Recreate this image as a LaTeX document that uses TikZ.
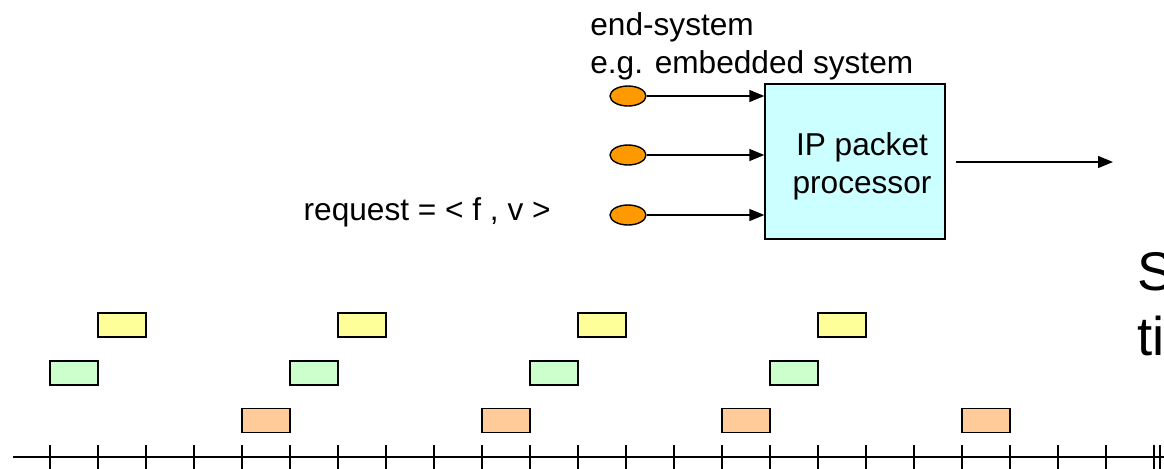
\documentclass[tikz,border=0pt]{standalone}
\usepackage{fontspec}
\setmainfont{Liberation Sans}
\usetikzlibrary{arrows.meta,shapes.geometric,positioning}
\definecolor{boxcyan}{HTML}{CCFFFF}
\definecolor{srcorange}{HTML}{FF9900}
\definecolor{slotyellow}{HTML}{FFFF99}
\definecolor{slotgreen}{HTML}{CCFFCC}
\definecolor{slotorange}{HTML}{FFCC99}
\tikzset{
  proc/.style={
    rectangle, draw, fill=boxcyan,
    minimum width=3.6cm, minimum height=3.1cm,
    line width=0.8pt,
  },
  src/.style={
    ellipse, draw, fill=srcorange, inner sep=0pt, line width=0.8pt,
    minimum width=0.72cm, minimum height=0.4cm,
  },
  slot/.style={
    rectangle, draw, inner sep=0pt, line width=1pt,
    minimum width=0.96cm, minimum height=0.48cm,
  },
  line/.style={
    draw, line width=0.8pt, -{Triangle[length=0.3cm,width=0.24cm]},
  }
}

\begin{document}
\begin{tikzpicture}[x=0.02cm,y=-0.02cm,font=\fontsize{18}{21.6}\selectfont]
\useasboundingbox (0,0) rectangle (1164,468);
\clip (0,0) rectangle (1164,468);
% end-system
\node [anchor=base west,inner sep=0pt] (es) at (590,35) {end-system};
\node [anchor=base west,inner sep=0pt] (eg) at (590,73) {e.g. embedded system};
\node [proc] (ipp) at (855,161.5) {};
\node [align=center,inner sep=0pt] (ipptxt) at ([shift={(7,5)}]ipp.center) {IP packet\\processor};
\foreach \y/\n in {96/1,155/2,215/3}{
  \node [src] (s\n) at (628,\y) {};
  \path [line] (s\n) -- (s\n -| ipp.west);
}
\coordinate (out) at (1113,162);
\path [line,shorten <=0.2cm] (ipp.east |- out) -- (out);
\node [anchor=base east,inner sep=0pt] (req) at (551,220) {request = < f , v >};
\node [anchor=base west,inner sep=0pt,font=\fontsize{31}{37}\selectfont] (s) at (1137,290) {S};
\node [anchor=base west,inner sep=0pt,font=\fontsize{31}{37}\selectfont] (ti) at (1137,355) {ti};
% requests on the time line
\foreach \i in {0,...,3}{
  \node [slot,fill=slotyellow] (y\i) at (122+240*\i,325) {};
  \node [slot,fill=slotgreen] (g\i) at (74+240*\i,373) {};
  \node [slot,fill=slotorange] (o\i) at (266+240*\i,420.5) {};
}
% time axis
\draw [line width=1pt] (13,457) -- (1164,457);
\foreach \x in {50,98,...,1154,1160}
  \draw [line width=1pt] (\x,445) -- (\x,470);
\end{tikzpicture}
\end{document}
